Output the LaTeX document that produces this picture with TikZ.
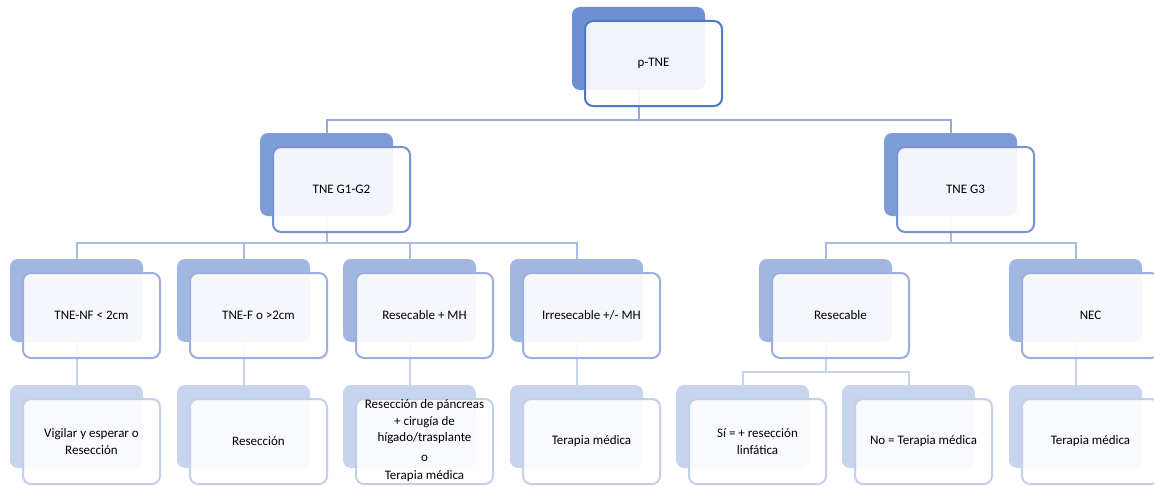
\documentclass[tikz,border=0pt]{standalone}
\usepackage{fontspec}
\setmainfont{Carlito}
\definecolor{bk0}{HTML}{6B8FD1}
\definecolor{fr0}{HTML}{4F77C5}
\definecolor{bk1}{HTML}{7E9CD7}
\definecolor{fr1}{HTML}{7492D4}
\definecolor{bk2}{HTML}{A1B6E1}
\definecolor{fr2}{HTML}{9BB0DE}
\definecolor{bk3}{HTML}{C7D4ED}
\definecolor{fr3}{HTML}{C3D0EC}
\definecolor{ln0}{HTML}{92A9DC}
\definecolor{ln1}{HTML}{A9BAE3}
\definecolor{ln2}{HTML}{C6D3ED}
\tikzset{
  back/.style={rounded corners=8pt, minimum width=133pt, minimum height=83pt, inner sep=0pt, fill=#1},
  front/.style={rounded corners=8pt, minimum width=137pt, minimum height=85pt, inner sep=0pt,
    line width=2pt, draw=#1, fill=white, fill opacity=0.9, text opacity=1, align=center,
    font=\fontsize{13}{17}\selectfont},
  txt/.style={inner sep=0pt, align=center, font=\fontsize{13}{16.5}\selectfont},
  conn/.style={line width=2pt, draw=#1},
}
\begin{document}
\begin{tikzpicture}[x=1pt,y=-1pt]
\useasboundingbox (0,0) rectangle (1154,487);
\clip (0,0) rectangle (1154,487);
% back rectangles (top-left + (66.5,41.5))
\node[back=bk0] (b0) at (638.5,48.5) {};
\node[back=bk1] (b1a) at (326.5,174.5) {};
\node[back=bk1] (b1b) at (950.5,174.5) {};
\node[back=bk2] (b2a) at (76.5,300.5) {};
\node[back=bk2] (b2b) at (243.5,300.5) {};
\node[back=bk2] (b2c) at (409.5,300.5) {};
\node[back=bk2] (b2d) at (576.5,300.5) {};
\node[back=bk2] (b2e) at (825.5,300.5) {};
\node[back=bk2] (b2f) at (1075.5,300.5) {};
\node[back=bk3] (b3a) at (76.5,426.5) {};
\node[back=bk3] (b3b) at (243.5,426.5) {};
\node[back=bk3] (b3c) at (409.5,426.5) {};
\node[back=bk3] (b3d) at (576.5,426.5) {};
\node[back=bk3] (b3e) at (742.5,426.5) {};
\node[back=bk3] (b3f) at (908.5,426.5) {};
\node[back=bk3] (b3g) at (1075.5,426.5) {};
% bus levels
\coordinate (bus0) at (0,120);
\coordinate (bus1) at (0,243);
\coordinate (bus2) at (0,372);
% connectors
\draw[conn=ln0] (b0.south) -- (b0.south |- bus0) -| (b1a.north);
\draw[conn=ln0] (b0.south |- bus0) -| (b1b.north);
\draw[conn=ln1] (b1a.south) -- (b1a.south |- bus1) -| (b2a.north);
\draw[conn=ln1] (b1a.south |- bus1) -| (b2b.north);
\draw[conn=ln1] (b1a.south |- bus1) -| (b2c.north);
\draw[conn=ln1] (b1a.south |- bus1) -| (b2d.north);
\draw[conn=ln1] (b1b.south) -- (b1b.south |- bus1) -| (b2e.north);
\draw[conn=ln1] (b1b.south |- bus1) -| (b2f.north);
\draw[conn=ln2] (b2a.south) -- (b3a.north);
\draw[conn=ln2] (b2b.south) -- (b3b.north);
\draw[conn=ln2] (b2c.south) -- (b3c.north);
\draw[conn=ln2] (b2d.south) -- (b3d.north);
\draw[conn=ln2] (b2e.south) -- (b2e.south |- bus2) -| (b3e.north);
\draw[conn=ln2] (b2e.south |- bus2) -| (b3f.north);
\draw[conn=ln2] (b2f.south) -- (b3g.north);
% front rectangles (top-left + (81.5,56.5))
\node[front=fr0] (f0) at (653.5,63.5) {p-TNE};
\node[front=fr1] (f1a) at (341.5,189.5) {TNE G1-G2};
\node[front=fr1] (f1b) at (965.5,189.5) {TNE G3};
\node[front=fr2] (f2a) at (91.5,315.5) {TNE-NF < 2cm};
\node[front=fr2] (f2b) at (258.5,315.5) {TNE-F o >2cm};
\node[front=fr2] (f2c) at (424.5,315.5) {Resecable + MH};
\node[front=fr2] (f2d) at (591.5,315.5) {Irresecable +/- MH};
\node[front=fr2] (f2e) at (840.5,315.5) {Resecable};
\node[front=fr2] (f2f) at (1090.5,315.5) {NEC};
\node[front=fr3] (f3a) at (91.5,441.5) {Vigilar y esperar o\\Resección};
\node[front=fr3] (f3b) at (258.5,441.5) {Resección};
\node[front=fr3] (f3c) at (424.5,441.5) {};
\node[txt] (t3c) at (424.5,441) {Resección de páncreas\\+ cirugía de\\hígado/trasplante\\[3pt]o\\[2pt]Terapia médica};
\node[front=fr3] (f3d) at (591.5,441.5) {Terapia médica};
\node[front=fr3] (f3e) at (757.5,441.5) {Sí = + resección\\linfática};
\node[front=fr3] (f3f) at (923.5,441.5) {No = Terapia médica};
\node[front=fr3] (f3g) at (1090.5,441.5) {Terapia médica};
\end{tikzpicture}
\end{document}
